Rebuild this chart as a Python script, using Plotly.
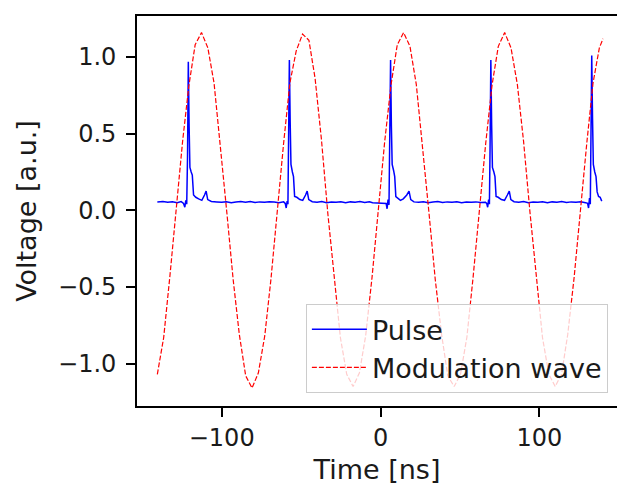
import plotly.graph_objects as go

# ---- Data ----
pulse_t = [
    -140.5, -137.0, -134.0, -131.0, -128.0, -125.5, -124.0, -123.2, -122.6, -122.0, -121.5, -121.0,
    -120.5, -120.0, -119.2, -118.5, -117.7, -116.3, -114.5, -112.5, -110.8, -109.8, -108.8, -106.5,
    -103.0, -100.0, -97.0, -94.0, -91.0, -88.0, -85.0, -82.0, -79.0, -76.0, -73.0, -70.0, -67.0,
    -64.0, -61.0,
    -60.0, -59.4, -58.8, -58.3, -57.9, -57.4, -56.9, -56.4, -55.5, -54.8, -54.1, -52.7, -50.8,
    -49.0, -47.2, -46.2, -45.2, -43.0, -40.0, -37.0, -34.0, -31.0, -28.0, -25.0, -22.0, -19.0,
    -16.0, -13.0, -10.0, -7.0, -5.0,
    3.5, 4.1, 4.7, 5.3, 5.8, 6.3, 6.8, 7.3, 8.2, 8.9, 9.6, 11.0, 12.5, 14.3, 16.5, 17.9, 19.0,
    21.0, 24.0, 27.0, 30.0, 33.0, 36.0, 39.0, 42.0, 45.0, 48.0, 51.0, 54.0, 57.0, 60.0, 63.0, 66.0,
    66.8, 67.4, 68.0, 68.5, 68.9, 69.4, 69.9, 70.4, 71.3, 72.0, 72.7, 74.0, 76.0, 78.0, 79.8,
    81.0, 82.0, 84.0, 87.0, 90.0, 93.0, 96.0, 99.0, 102.0, 105.0, 108.0, 111.0, 114.0, 117.0,
    120.0, 123.0, 126.0, 129.0,
    130.3, 130.9, 131.5, 132.0, 132.4, 132.9, 133.4, 133.9, 134.8, 135.6, 136.3, 137.2, 138.2, 139.2,
]
pulse_v = [
    0.055, 0.058, 0.052, 0.056, 0.050, 0.057, 0.045, 0.020, 0.065, 0.040, 0.35, 0.97,
    0.55, 0.28, 0.25, 0.23, 0.10, 0.085, 0.075, 0.065, 0.10, 0.125, 0.07, 0.058,
    0.055, 0.052, 0.056, 0.050, 0.054, 0.057, 0.053, 0.058, 0.051, 0.055, 0.052, 0.056, 0.054,
    0.050, 0.055,
    0.045, 0.015, 0.060, 0.040, 0.40, 0.98, 0.58, 0.30, 0.25, 0.22, 0.09, 0.085, 0.07,
    0.065, 0.10, 0.125, 0.07, 0.056, 0.053, 0.057, 0.050, 0.054, 0.052, 0.056, 0.049, 0.055,
    0.052, 0.057, 0.051, 0.055, 0.050,
    0.045, 0.010, 0.070, 0.035, 0.38, 0.98, 0.55, 0.30, 0.26, 0.22, 0.09, 0.08, 0.065, 0.075, 0.10, 0.125, 0.07,
    0.055, 0.052, 0.056, 0.050, 0.054, 0.057, 0.051, 0.055, 0.052, 0.056, 0.050, 0.054, 0.052, 0.055, 0.051, 0.053,
    0.045, 0.020, 0.070, 0.040, 0.40, 0.98, 0.56, 0.28, 0.25, 0.22, 0.09, 0.085, 0.07, 0.065, 0.10,
    0.125, 0.07, 0.056, 0.053, 0.057, 0.050, 0.054, 0.052, 0.056, 0.049, 0.055, 0.052, 0.057, 0.051,
    0.055, 0.052, 0.056, 0.050,
    0.045, 0.015, 0.080, 0.040, 0.42, 1.01, 0.60, 0.30, 0.25, 0.22, 0.12, 0.09, 0.085, 0.06,
]

wave_t = [
    -140.5, -136.5, -132.6, -128.6, -124.6, -120.7, -116.7, -112.7, -108.7, -104.8, -100.8,
    -96.8, -92.8, -88.9, -84.9, -80.9, -76.9, -72.9, -69.0, -65.0, -61.0, -57.1, -53.1, -49.1,
    -45.1, -41.2, -37.2, -33.2, -29.2, -25.3, -21.3, -17.3, -13.3, -9.4, -5.4, -1.4, 2.6, 6.6,
    10.5, 14.5, 18.5, 22.5, 26.4, 30.4, 34.4, 38.4, 42.3, 46.3, 50.3, 54.3, 58.2, 62.2, 66.2,
    70.2, 74.1, 78.1, 82.1, 86.1, 90.0, 94.0, 98.0, 101.9, 105.9, 109.9, 113.9, 117.8, 121.8,
    125.8, 129.8, 133.7, 137.7, 140.0,
]
wave_v = [
    -1.07, -0.83, -0.43, 0.01, 0.45, 0.81, 1.08, 1.16, 1.06, 0.83, 0.43,
    -0.01, -0.45, -0.81, -1.08, -1.16, -1.06, -0.82, -0.45, 0.01, 0.44, 0.83, 1.04, 1.15,
    1.11, 0.86, 0.46, -0.02, -0.44, -0.83, -1.07, -1.15, -1.06, -0.82, -0.44, 0.01, 0.45, 0.82,
    1.08, 1.16, 1.07, 0.82, 0.43, -0.01, -0.45, -0.81, -1.08, -1.15, -1.07, -0.83, -0.44, 0.02, 0.44,
    0.82, 1.07, 1.16, 1.06, 0.82, 0.45, -0.01, -0.44, -0.83, -1.07, -1.15, -1.07, -0.81, -0.44,
    0.01, 0.44, 0.83, 1.06, 1.12,
]

x_ticks = [-100, 0, 100]
y_ticks = [-1.0, -0.5, 0.0, 0.5, 1.0]

FONT = "DejaVu Sans"
TEXT = "#1a1a1a"

fig = go.Figure()
fig.add_trace(go.Scatter(
    x=pulse_t, y=pulse_v, mode="lines", name="Pulse",
    line=dict(color="#0000ff", width=1.5),
))
fig.add_trace(go.Scatter(
    x=wave_t, y=wave_v, mode="lines", name="Modulation wave",
    line=dict(color="#ff0000", width=1.2, dash="5px,2px"),
))

fig.update_layout(
    width=617, height=486, autosize=False,
    margin=dict(l=137, r=0, t=16, b=80),
    paper_bgcolor="white", plot_bgcolor="white",
    font=dict(family=FONT, size=24, color=TEXT),
    showlegend=True,
    legend=dict(
        x=0.981, y=0.033, xanchor="right", yanchor="bottom",
        bgcolor="rgba(255,255,255,0.8)", bordercolor="#cccccc", borderwidth=1,
        font=dict(family=FONT, size=27, color=TEXT),
        itemwidth=55,
    ),
    xaxis=dict(
        range=[-153.3, 148.8], tickvals=x_ticks, ticks="outside", ticklen=9,
        tickwidth=1.5, tickcolor="black", showgrid=False, zeroline=False,
        showline=True, linecolor="black", linewidth=1.8, mirror=True,
        title=dict(text="Time [ns]", font=dict(size=27), standoff=9),
        tickfont=dict(size=24),
    ),
    yaxis=dict(
        range=[-1.277, 1.268], tickvals=y_ticks, tickformat=".1f", ticks="outside",
        ticklen=9, tickwidth=1.5, tickcolor="black", showgrid=False, zeroline=False,
        showline=True, linecolor="black", linewidth=1.8, mirror=False,
        ticklabelstandoff=5,
        title=dict(text="Voltage [a.u.]", font=dict(size=27), standoff=14),
        tickfont=dict(size=24),
    ),
)

fig.write_html("out.html")
